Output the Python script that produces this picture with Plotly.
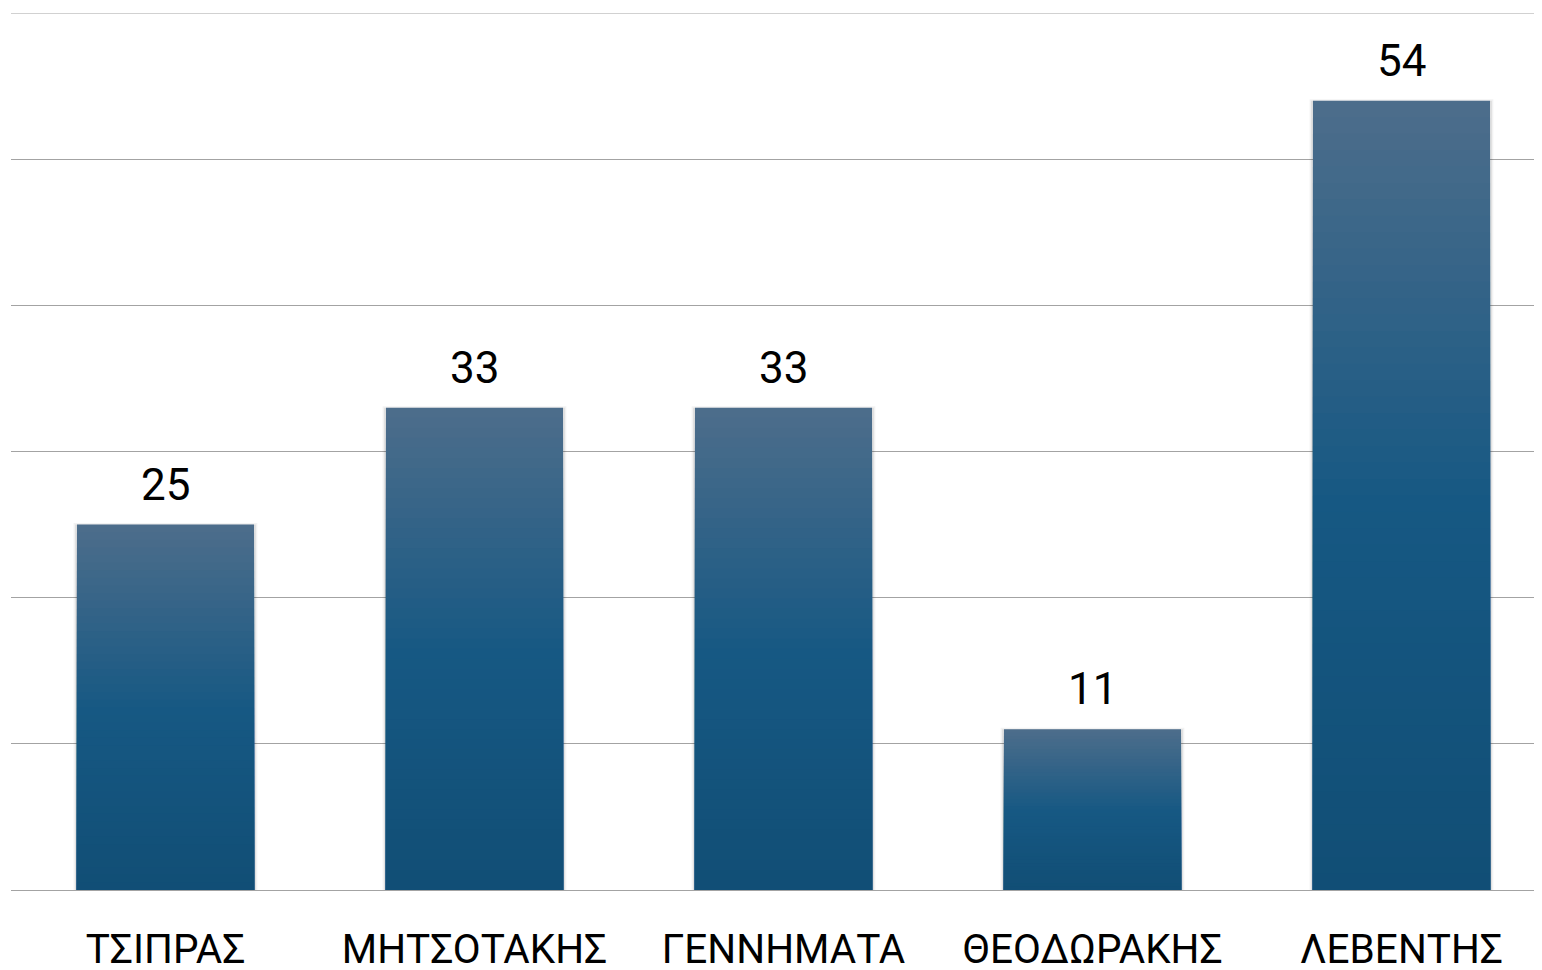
import plotly.graph_objects as go

categories = ["ΤΣΙΠΡΑΣ", "ΜΗΤΣΟΤΑΚΗΣ", "ΓΕΝΝΗΜΑΤΑ", "ΘΕΟΔΩΡΑΚΗΣ", "ΛΕΒΕΝΤΗΣ"]
values = [25, 33, 33, 11, 54]
y_max = 60
grid_vals = [10, 20, 30, 40, 50]

# gradient stops (fraction from bottom -> rgb)
grad_stops = [(0.0, (17, 78, 117)), (0.5, (22, 88, 131)), (1.0, (76, 109, 139))]


def grad_color(t):
    for (t0, c0), (t1, c1) in zip(grad_stops[:-1], grad_stops[1:]):
        if t0 <= t <= t1:
            f = (t - t0) / (t1 - t0)
            c = [round(a + (b - a) * f) for a, b in zip(c0, c1)]
            return f"rgb({c[0]},{c[1]},{c[2]})"
    return f"rgb{grad_stops[-1][1]}"


FONT = "Roboto"
N = 48
GRID = "#a3a3a3"
fig = go.Figure()

# soft shadow
fig.add_trace(go.Bar(
    x=categories, y=values,
    marker=dict(color="rgba(0,0,0,0.08)", line=dict(width=3, color="rgba(0,0,0,0.05)")),
    width=0.585, hoverinfo="skip", showlegend=False,
))

for k in range(N):
    t = 1 - k / N
    fig.add_trace(go.Bar(
        x=categories,
        y=[v * t for v in values],
        marker=dict(color=grad_color(t), line=dict(width=0)),
        hoverinfo="skip",
        showlegend=False,
    ))

for c, v in zip(categories, values):
    fig.add_annotation(
        x=c, y=v, text=str(v), showarrow=False, yanchor="bottom", yshift=12,
        font=dict(family=FONT, size=44, color="#000000"),
    )

# top gridline (plotly hides gridlines at the very edge of the range)
fig.add_shape(type="line", xref="paper", x0=0, x1=1, yref="y", y0=y_max, y1=y_max,
              line=dict(color=GRID, width=1), layer="below")

fig.update_layout(
    width=1548, height=962,
    barmode="overlay", bargap=0.427,
    paper_bgcolor="white", plot_bgcolor="white",
    margin=dict(l=3, r=0, t=5, b=80),
    showlegend=False,
)
fig.update_xaxes(
    showgrid=False, showline=False, zeroline=False, ticks="",
    tickfont=dict(family=FONT, size=40.5, color="#000000"),
    ticklabelstandoff=31, automargin=False,
)
fig.update_yaxes(
    range=[0, y_max], tickvals=grid_vals, showticklabels=False, ticks="",
    showgrid=True, gridcolor=GRID, gridwidth=1,
    zeroline=True, zerolinecolor=GRID, zerolinewidth=1, showline=False,
    automargin=False,
)

fig.write_html("out.html")
